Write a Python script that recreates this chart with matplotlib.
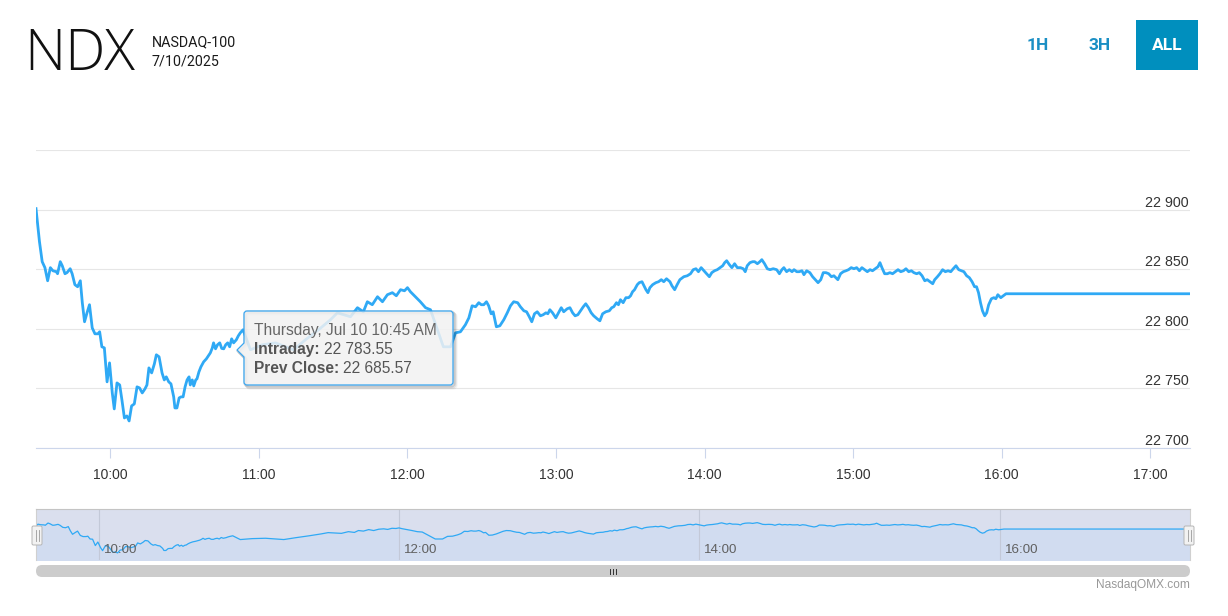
import numpy as np
import matplotlib
matplotlib.use("Agg")
import matplotlib.pyplot as plt
import matplotlib.dates as mdates
import matplotlib.transforms as mtransforms
from matplotlib.path import Path
from matplotlib.patches import PathPatch, Rectangle, FancyBboxPatch

# minutes after the 9:30 open and the NDX level at that minute
minutes = [0.0, 1.4, 2.5, 3.6, 4.7, 5.8, 6.8, 8.2, 8.7, 9.8, 10.6, 11.7, 12.5, 13.8, 14.6, 15.7, 16.8, 17.9,
           18.7, 19.6, 20.6, 21.6, 22.7, 23.8, 25.0, 25.7, 26.6, 27.6, 28.7, 29.7, 30.8, 31.6, 32.7, 33.8,
           34.7, 35.7, 36.7, 37.6, 38.6, 39.7, 40.8, 41.8, 42.9, 44.0, 44.8, 45.6, 46.7, 47.8, 48.6, 49.7,
           50.9, 51.8, 52.6, 53.6, 54.5, 55.6, 56.1, 56.9, 57.8, 58.6, 59.4, 60.2, 61.0, 61.8, 62.3, 63.1,
           63.7, 64.5, 65.0, 65.8, 66.6, 67.7, 68.8, 69.6, 70.4, 71.2, 71.7, 72.5, 73.3, 74.2, 75.0, 75.8,
           76.6, 77.4, 78.2, 79.0, 79.8, 80.9, 81.7, 82.5, 83.6, 86.6, 91.4, 96.7, 104.0, 108.8, 114.1,
           118.9, 121.7, 127.0, 129.8, 132.2, 133.8, 135.8, 137.9, 139.9, 141.9, 143.9, 145.5, 147.2,
           148.8, 150.0, 151.2, 153.2, 155.2, 157.3, 159.3, 162.1, 164.5, 167.4, 169.4,
           171.4, 173.4, 174.8, 176.1, 177.5, 178.8, 179.8, 180.8, 181.9, 182.8, 183.8, 184.6, 185.9,
           187.3, 188.9, 190.3, 191.6, 192.9, 194.5, 195.6, 197.0, 198.1, 199.2, 200.2, 201.3, 202.4,
           203.7, 204.8, 205.9, 206.7, 207.5, 208.6, 209.9, 211.0, 212.1, 213.1, 214.5, 215.6, 216.7,
           217.7, 218.8, 219.9, 221.0, 222.0, 223.1, 224.2, 225.2, 226.6, 227.7, 228.8, 230.1, 231.5,
           232.5, 233.3, 234.4, 235.2, 236.0, 237.1, 238.2, 239.3, 240.1, 240.9, 241.7, 242.8, 243.6,
           244.7, 245.5, 246.3, 247.1, 247.9, 249.0, 250.3, 251.4, 252.5, 253.5, 254.6, 256.0, 256.8,
           257.9, 258.9, 260.0,
           261.6, 263.0, 264.3, 265.4, 266.5, 267.5, 268.6, 269.7, 270.8, 271.9, 272.9, 274.0, 275.1,
           276.2, 277.3, 278.1, 278.9, 280.0, 281.0, 282.1, 283.2, 284.5, 285.6, 286.4, 287.2, 288.3,
           289.4, 290.2, 291.3, 292.3, 293.1, 294.2, 295.3, 296.4, 297.7, 299.1, 300.2, 301.2, 302.0,
           303.1, 304.2, 305.3, 306.1, 307.2, 308.2, 309.3, 310.1, 311.2, 312.5, 313.6, 314.7, 315.8,
           316.9, 317.9, 319.0, 320.1, 321.2, 322.2, 323.0, 323.8, 324.9, 326.0, 327.1, 328.1, 329.2,
           330.3, 331.4, 332.5, 333.5, 334.6, 335.7, 336.8, 337.8, 338.9, 340.0, 340.8, 341.6, 342.7,
           343.8, 344.8, 345.9, 347.0, 348.1, 349.2, 350.3, 351.3, 352.4, 353.5, 354.5, 355.6, 356.7,
           357.8, 358.9, 359.9, 361.0, 362.1, 362.9, 364.0, 365.0, 366.1, 367.2, 368.3, 369.4, 370.4,
           371.5, 372.6, 373.7, 374.7, 375.8, 376.9, 378.0, 379.0, 379.8, 380.6, 381.4, 382.2, 383.1,
           383.9, 384.7, 385.8, 386.8, 387.6, 388.4, 389.6, 391.7, 466.0]
levels = [22900.8, 22873.1, 22856.3, 22851.3, 22840.3, 22851.3, 22848.7, 22847.9, 22846.2, 22856.3, 22852.9,
          22846.2, 22847.1, 22850.4, 22846.2, 22837.0, 22835.3, 22840.3, 22821.9, 22805.9, 22813.4, 22820.2,
          22800.8, 22795.8, 22795.8, 22797.5, 22784.9, 22784.0, 22755.5, 22771.4, 22746.2, 22732.8, 22754.6,
          22752.9, 22740.3, 22725.2, 22726.9, 22722.7, 22735.3, 22737.0, 22751.3, 22750.4, 22746.2, 22749.6,
          22752.9, 22767.2, 22763.0, 22770.6, 22778.2, 22776.5, 22763.0, 22757.1, 22759.7, 22755.5, 22753.8,
          22742.9, 22733.6, 22733.6, 22742.0, 22742.9, 22742.9, 22751.3, 22757.1, 22759.7, 22752.9, 22757.1,
          22752.1, 22757.1, 22758.0, 22763.9, 22768.1, 22772.3, 22774.8, 22777.3, 22779.8, 22784.0, 22788.2,
          22783.2, 22786.6, 22788.2, 22783.55, 22783.2, 22786.6, 22788.2, 22784.9, 22791.6, 22788.2, 22790.8,
          22794.1, 22796.6, 22799.2, 22782.4, 22786.6, 22788.2, 22782.4, 22790.8, 22799.2, 22807.6, 22813.4,
          22810.1, 22817.7, 22814.3, 22822.7, 22820.2, 22826.9, 22822.7, 22828.6, 22830.3, 22827.7, 22832.8,
          22831.9, 22834.5, 22831.1, 22826.9, 22822.7, 22817.7, 22816.0, 22799.2, 22784.9, 22784.9, 22796.6,
          22797.5, 22803.4, 22809.2, 22819.3, 22818.5, 22821.9, 22820.2, 22820.2, 22822.7, 22819.3, 22812.6,
          22814.3, 22801.7, 22802.5, 22807.6, 22813.4, 22819.3, 22822.7, 22821.9, 22818.5, 22815.1, 22814.3,
          22810.1, 22805.9, 22812.6, 22814.3, 22810.9, 22811.8, 22813.4, 22812.6, 22816.0, 22813.4, 22809.2,
          22813.4, 22817.7, 22814.3, 22816.8, 22817.7, 22813.4, 22810.9, 22811.8, 22815.1, 22818.5, 22821.0,
          22817.7, 22813.4, 22810.9, 22808.4, 22806.7, 22812.6, 22814.3, 22815.1, 22817.7, 22818.5, 22821.9,
          22820.2, 22824.4, 22821.9, 22826.1, 22826.1, 22827.7, 22831.1, 22832.8, 22837.0, 22838.7, 22839.5,
          22836.1, 22832.8, 22830.3, 22834.5, 22837.0, 22838.7, 22839.5, 22841.2, 22839.5, 22842.0, 22839.5,
          22836.1, 22832.8, 22837.0, 22841.2,
          22843.7, 22844.5, 22846.2, 22849.6, 22850.4, 22847.9, 22851.3, 22848.7, 22846.2, 22843.7, 22847.1,
          22848.7, 22849.6, 22851.3, 22852.9, 22855.5, 22857.1, 22853.8, 22851.3, 22854.6, 22851.3, 22851.3,
          22850.4, 22847.9, 22852.9, 22855.5, 22856.3, 22856.3, 22854.6, 22856.3, 22858.0, 22854.6, 22850.4,
          22849.6, 22850.4, 22849.6, 22846.2, 22849.6, 22851.3, 22847.9, 22849.6, 22847.9, 22849.6, 22847.9,
          22847.9, 22848.7, 22845.4, 22848.7, 22847.1, 22843.7, 22841.2, 22838.7, 22841.2, 22847.1, 22847.1,
          22846.2, 22843.7, 22844.5, 22842.9, 22841.2, 22846.2, 22847.9, 22848.7, 22849.6, 22851.3, 22850.4,
          22851.3, 22848.7, 22851.3, 22849.6, 22847.9, 22849.6, 22848.7, 22850.4, 22852.1, 22855.5, 22851.3,
          22846.2, 22846.2, 22847.1, 22846.2, 22847.9, 22849.6, 22847.9, 22848.7, 22850.4, 22847.9, 22848.7,
          22847.1, 22846.2, 22847.1, 22844.5, 22840.3, 22841.2, 22839.5, 22837.8, 22841.2, 22843.7, 22846.2,
          22849.6, 22847.9, 22848.7, 22847.9, 22850.4, 22852.9, 22849.6, 22848.7, 22847.9, 22844.5, 22842.9,
          22839.5, 22835.3, 22835.3, 22830.3, 22821.9, 22815.1, 22810.9, 22813.4, 22820.2, 22825.2, 22826.1,
          22825.2, 22828.6, 22826.1, 22829.4, 22829.4]

y_ticks = [22700, 22750, 22800, 22850, 22900]
nav_hours = ['10:00', '12:00', '14:00', '16:00']
tip_time = 'Thursday, Jul 10 10:45 AM'
tip_intraday = 22783.55
tip_prev_close = 22685.57

LINE = '#2fa9f5'
W, H = 1228, 616

plt.rcParams['font.family'] = ['Liberation Sans', 'DejaVu Sans']
fig = plt.figure(figsize=(W / 100, H / 100), dpi=100)

day = '2025-07-10T'
open_time = np.datetime64(day + '09:30:00')
nav_start = np.datetime64(day + '09:35:00')
end_time = np.datetime64(day + '17:16:00')
secs = np.round(np.array(minutes) * 60).astype(np.int64)
times = open_time + secs.astype('timedelta64[s]')


def spaced(v, fmt='{:,}'):
    return fmt.format(v).replace(',', ' ')


# main chart
ax = fig.add_axes([36 / W, 1 - 448 / H, 1154 / W, 298 / H])
ax.plot(times, levels, color=LINE, lw=2.0, solid_joinstyle='round', zorder=3)
ax.set_xlim(open_time, end_time)
ax.set_ylim(22700, 22950)
ax.set_yticks(y_ticks + [22950])
ax.yaxis.grid(True, color='#e6e6e6', lw=0.8)
ax.set_axisbelow(True)
ax.tick_params(axis='y', length=0, labelleft=False)
for s in ['top', 'left', 'right']:
    ax.spines[s].set_visible(False)
ax.spines['bottom'].set_color('#ccd6eb')
ax.spines['bottom'].set_linewidth(0.8)
ax.xaxis.set_major_locator(mdates.HourLocator())
ax.xaxis.set_major_formatter(mdates.DateFormatter('%H:%M'))
ax.tick_params(axis='x', length=7.2, width=0.8, color='#ccd6eb', labelcolor='#333333',
               labelsize=10, pad=7)

ytrans = mtransforms.offset_copy(
    mtransforms.blended_transform_factory(ax.transAxes, ax.transData),
    fig=fig, x=-1, y=3, units='dots')
for v in y_ticks:
    ax.text(1, v, spaced(v), transform=ytrans, ha='right', va='baseline',
            fontsize=10.3, color='#333333')

# navigator
nav = fig.add_axes([36 / W, 1 - 560 / H, 1154 / W, 51 / H])
nav.set_facecolor('#dadfee')
nav.fill_between(times, levels, 22680, color='#d1dcf0', lw=0)
nav.plot(times, levels, color=LINE, lw=0.9)
nav.set_xlim(nav_start, end_time)
nav.set_ylim(22691, 22919)
nav_ticks = [np.datetime64(day + h) for h in nav_hours]
nav.set_xticks(nav_ticks)
nav.set_yticks([])
nav.xaxis.grid(True, color='#c3c9d8', lw=0.8)
nav.tick_params(length=0, labelbottom=False)
nav.spines['bottom'].set_visible(False)
nav.spines['top'].set_color('#c4c4c4')
for s in ['left', 'right']:
    nav.spines[s].set_color('#d0d0d0')
navtrans = mtransforms.offset_copy(
    mtransforms.blended_transform_factory(nav.transData, nav.transAxes),
    fig=fig, x=5, y=0, units='dots')
for t, h in zip(nav_ticks, nav_hours):
    nav.text(t, 0.2, h, transform=navtrans, ha='left', va='center', fontsize=9.6, color='#606060')

# overlay in pixel units for header, buttons, tooltip, scrollbar
ov = fig.add_axes([0, 0, 1, 1], zorder=10)
ov.set_xlim(0, W)
ov.set_ylim(H, 0)
ov.axis('off')

ov.text(24, 70.5, 'NDX', family=['Open Sans', 'DejaVu Sans'], fontweight=300, fontsize=41,
        color='#111111', va='baseline')
ov.text(152, 46, 'NASDAQ-100', family=['Roboto', 'DejaVu Sans'], fontsize=10.3,
        color='#1a1a1a', va='baseline')
ov.text(152, 65.5, '7/10/2025', family=['Roboto', 'DejaVu Sans'], fontsize=10.3,
        color='#1a1a1a', va='baseline')

ov.add_patch(Rectangle((1136, 20), 62, 50, color='#008fbe', lw=0))
for bx, lab, col in [(1038, '1H', '#1a8fc4'), (1100, '3H', '#1a8fc4'), (1167, 'ALL', 'white')]:
    ov.text(bx, 45, lab, family=['Roboto', 'DejaVu Sans'], fontweight='bold', fontsize=12.5,
            color=col, ha='center', va='center')

# navigator handles and scrollbar
for hx in (37, 1189):
    ov.add_patch(FancyBboxPatch((hx - 5, 526), 10, 19, boxstyle='round,pad=0,rounding_size=1.5',
                                fc='#f2f2f2', ec='#b5b5b5', lw=0.7))
    for dx in (-1.5, 1.5):
        ov.plot([hx + dx, hx + dx], [530, 541], color='#9a9a9a', lw=0.6)
ov.add_patch(FancyBboxPatch((36, 565), 1154, 12, boxstyle='round,pad=0,rounding_size=6',
                            fc='#cccccc', ec='none'))
for gx in (609.5, 612.5, 615.5):
    ov.plot([gx, gx], [568.5, 573.5], color='#333333', lw=0.7)

ov.text(1190, 585, 'NasdaqOMX.com', ha='right', va='center', fontsize=8.6, color='#999999')

# tooltip
x0, x1, y0, y1, r = 244, 453, 311, 385, 3
verts = [(x0 + r, y0), (x1 - r, y0), (x1, y0), (x1, y0 + r), (x1, y1 - r), (x1, y1), (x1 - r, y1),
         (x0 + r, y1), (x0, y1), (x0, y1 - r), (x0, 357), (237, 350), (x0, 343), (x0, y0 + r),
         (x0, y0), (x0 + r, y0), (x0 + r, y0)]
codes = [Path.MOVETO, Path.LINETO, Path.CURVE3, Path.CURVE3, Path.LINETO, Path.CURVE3, Path.CURVE3,
         Path.LINETO, Path.CURVE3, Path.CURVE3, Path.LINETO, Path.LINETO, Path.LINETO, Path.LINETO,
         Path.CURVE3, Path.CURVE3, Path.CLOSEPOLY]
tip_path = Path(verts, codes)
for off, a in [(3, 0.05), (2, 0.08), (1, 0.12)]:
    shadow = Path([(vx + off, vy + off) for vx, vy in verts], codes)
    ov.add_patch(PathPatch(shadow, fc='none', ec=(0, 0, 0, a), lw=2.2))
ov.add_patch(PathPatch(tip_path, fc=(0.95, 0.95, 0.95, 0.85), ec='#3aa6f0', lw=0.9))

ov.text(254, 335, tip_time, fontsize=11.2, color='#666666', va='baseline')
lab1 = ov.text(254, 354, 'Intraday:', fontsize=11.2, fontweight='bold', color='#555555', va='baseline')
lab2 = ov.text(254, 373, 'Prev Close:', fontsize=11.2, fontweight='bold', color='#555555', va='baseline')
for lab, val in [(lab1, tip_intraday), (lab2, tip_prev_close)]:
    ov.annotate(spaced(val, '{:,.2f}'), xy=(1, 0), xycoords=lab, xytext=(4, 0),
                textcoords='offset pixels', ha='left', va='bottom', fontsize=11.2, color='#555555')

fig.savefig('out.png', dpi=100)
